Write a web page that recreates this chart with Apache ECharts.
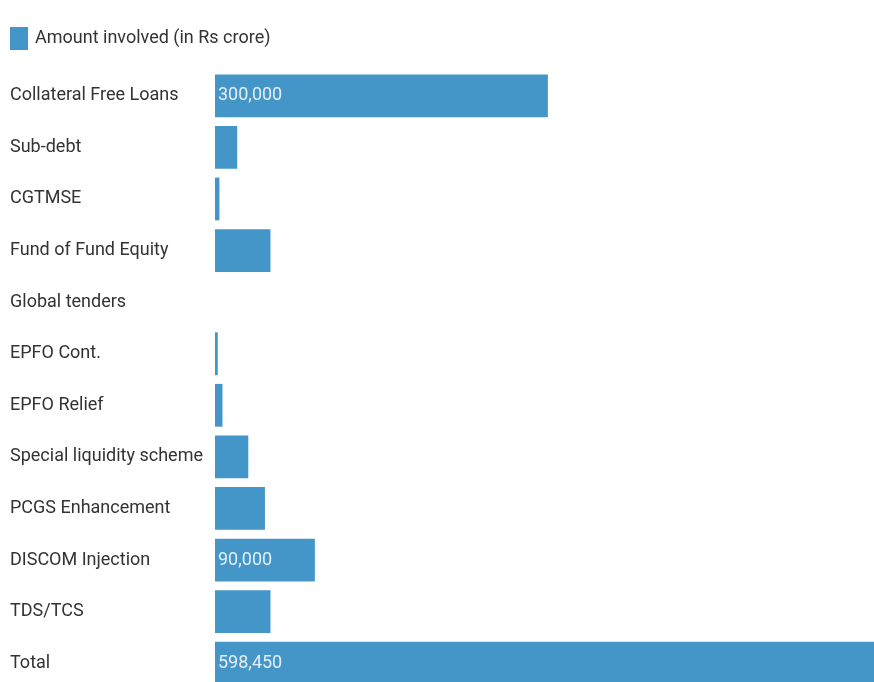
<!DOCTYPE html>
<html>
<head>
<meta charset="utf-8">
<script src="https://cdn.jsdelivr.net/npm/echarts@6/dist/echarts.min.js"></script>
<style>html,body{margin:0;padding:0;background:#fff;}#c{width:874px;height:682px;}</style>
</head>
<body>
<div id="c"></div>
<script>
const categories = ["Collateral Free Loans","Sub-debt","CGTMSE","Fund of Fund Equity","Global tenders","EPFO Cont.","EPFO Relief","Special liquidity scheme","PCGS Enhancement","DISCOM Injection","TDS/TCS","Total"];
const amounts = [300000,20000,4000,50000,0,2500,6750,30000,45000,90000,50000,598450];
const labelledBars = ["Collateral Free Loans","DISCOM Injection","Total"];
const seriesName = "Amount involved (in Rs crore)";

const chart = echarts.init(document.getElementById('c'));
const fontFamily = 'Roboto, sans-serif';
chart.setOption({
  animation: false,
  legend: {
    left: 5, top: 22, icon: 'rect',
    itemWidth: 18, itemHeight: 23, itemGap: 6,
    textStyle: {fontFamily, fontSize: 18, color: '#333', padding: [0, 0, 0, 2]},
    data: [seriesName]
  },
  grid: {left: 215, top: 70, width: 664, height: 619, containLabel: false, outerBoundsMode: 'none'},
  xAxis: {type: 'value', min: 0, max: 598450, show: false},
  yAxis: {
    type: 'category', inverse: true, data: categories,
    axisLine: {show: false}, axisTick: {show: false},
    axisLabel: {align: 'left', margin: 205, fontFamily, fontSize: 18, color: '#333', padding: [3, 0, 0, 0]}
  },
  series: [{
    name: seriesName, type: 'bar', barCategoryGap: '17%',
    itemStyle: {color: '#4596c8'},
    data: amounts.map((v, i) => ({
      value: v,
      label: {show: labelledBars.includes(categories[i])}
    })),
    label: {
      position: 'insideLeft', distance: 3, color: '#e3eff8',
      fontFamily, fontSize: 18, padding: [3, 0, 0, 0],
      formatter: p => p.value.toLocaleString('en-US')
    }
  }]
});
</script>
</body>
</html>
